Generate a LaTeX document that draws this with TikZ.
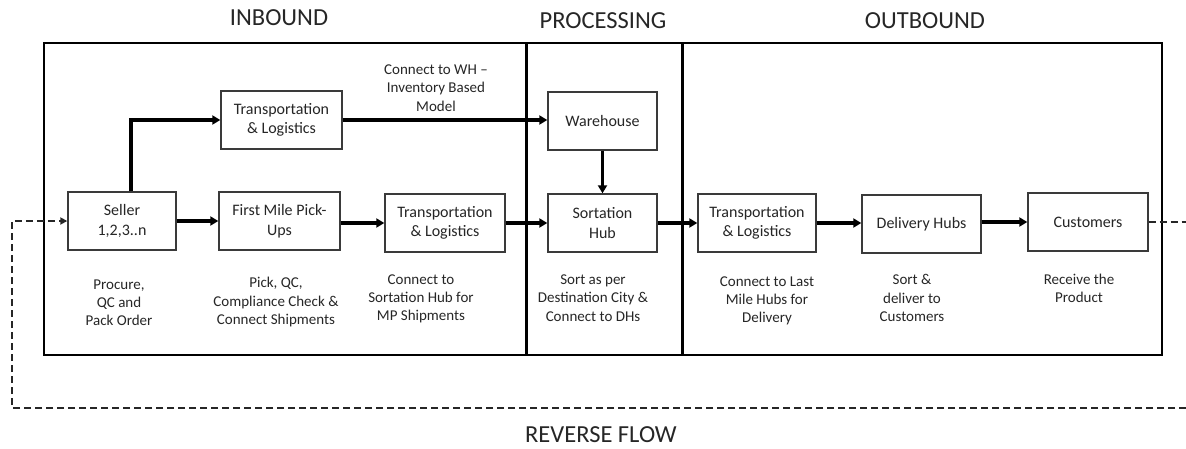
\documentclass[tikz,border=0pt]{standalone}
\usepackage{fontspec}
\setmainfont{Carlito}
\usetikzlibrary{arrows.meta}
\definecolor{ink}{HTML}{262626}
\definecolor{edge}{HTML}{3A3A3A}
\begin{document}
\begin{tikzpicture}[x=1pt,y=-1pt,
  stagebox/.style={draw=edge,line width=1.4pt,fill=white,inner sep=2pt,
    minimum height=58pt,align=center,text=ink,
    font=\fontsize{16}{19.5}\selectfont},
  note/.style={align=center,text=ink,font=\fontsize{15}{18.2}\selectfont},
  heading/.style={text=ink,inner sep=0pt,font=\fontsize{24.5}{28}\selectfont},
  flow/.style={line width=3.2pt,-{Triangle[length=8pt,width=9pt]}},
  revflow/.style={line width=2.4pt,dash pattern=on 7pt off 4pt,draw=ink},
  frame/.style={line width=1.8pt,draw=black},
  divider/.style={line width=3pt,draw=black}]
\useasboundingbox (0,0) rectangle (1186,448);

% stage headings
\node[heading] (hin)  at (279,18) {INBOUND};
\node[heading] (hpr)  at (603,21) {PROCESSING};
\node[heading] (hout) at (925,21) {OUTBOUND};
\node[heading] (hrev) at (601,435) {REVERSE FLOW};

% frame and stage dividers
\draw[frame] (44,43) rectangle (1162,355);
\draw[divider] (526,43) -- (526,355);
\draw[divider] (682,43) -- (682,355);

% process boxes
\node[stagebox,minimum width=121pt] (tltop)  at (281.5,120) {Transportation\\\& Logistics};
\node[stagebox,minimum width=109pt] (wh)     at (602.5,121) {Warehouse};
\node[stagebox,minimum width=108pt] (seller) at (122,221)   {Seller\\1,2,3..n};
\node[stagebox,minimum width=121pt] (fm)     at (279.5,221) {First Mile Pick-\\Ups};
\node[stagebox,minimum width=120pt] (tlmid)  at (445,223)   {Transportation\\\& Logistics};
\node[stagebox,minimum width=109pt] (sort)   at (602.5,223) {Sortation\\Hub};
\node[stagebox,minimum width=118pt] (tlout)  at (757,223)   {Transportation\\\& Logistics};
\node[stagebox,minimum width=119pt] (dh)     at (921.5,224) {Delivery Hubs};
\node[stagebox,minimum width=120pt] (cust)   at (1088,222)  {Customers};

% descriptions
\node[note] (nwh)   at (436,88)    {Connect to WH --\\Inventory Based\\Model};
\node[note] (nsel)  at (119,302.5) {Procure,\\QC and\\Pack Order};
\node[note] (nfm)   at (276,302)   {Pick, QC,\\Compliance Check \&\\Connect Shipments};
\node[note] (ntl)   at (421,299)   {Connect to\\Sortation Hub for\\MP Shipments};
\node[note] (nsort) at (593,298)   {Sort as per\\Destination City \&\\Connect to DHs};
\node[note] (ntlo)  at (767,301)   {Connect to Last\\Mile Hubs for\\Delivery};
\node[note] (ndh)   at (912,298)   {Sort \&\\deliver to\\Customers};
\node[note] (ncu)   at (1079,288.5){Receive the\\Product};

% forward flow
\draw[flow] ([xshift=9pt]seller.north) |- (tltop.west);
\draw[flow] (tltop.east) -- (wh.west |- tltop.east);
\draw[flow] (wh.south) -- (sort.north);
\draw[flow] (seller.east) -- (fm.west |- seller.east);
\draw[flow] (fm.east |- tlmid.west) -- (tlmid.west);
\draw[flow] (tlmid.east) -- (sort.west);
\draw[flow] (sort.east) -- (tlout.west);
\draw[flow] (tlout.east) -- (dh.west |- tlout.east);
\draw[flow] (dh.east |- cust.west) -- (cust.west);

% reverse flow
\coordinate (outR)  at (1186,222);
\coordinate (botR)  at (1186,408);
\coordinate (botL)  at (12,408);
\draw[revflow] (cust.east) -- (outR);
\draw[revflow,-{Triangle[length=7pt,width=7pt]}] (botR) -- (botL) |- (seller.west);
\end{tikzpicture}
\end{document}
